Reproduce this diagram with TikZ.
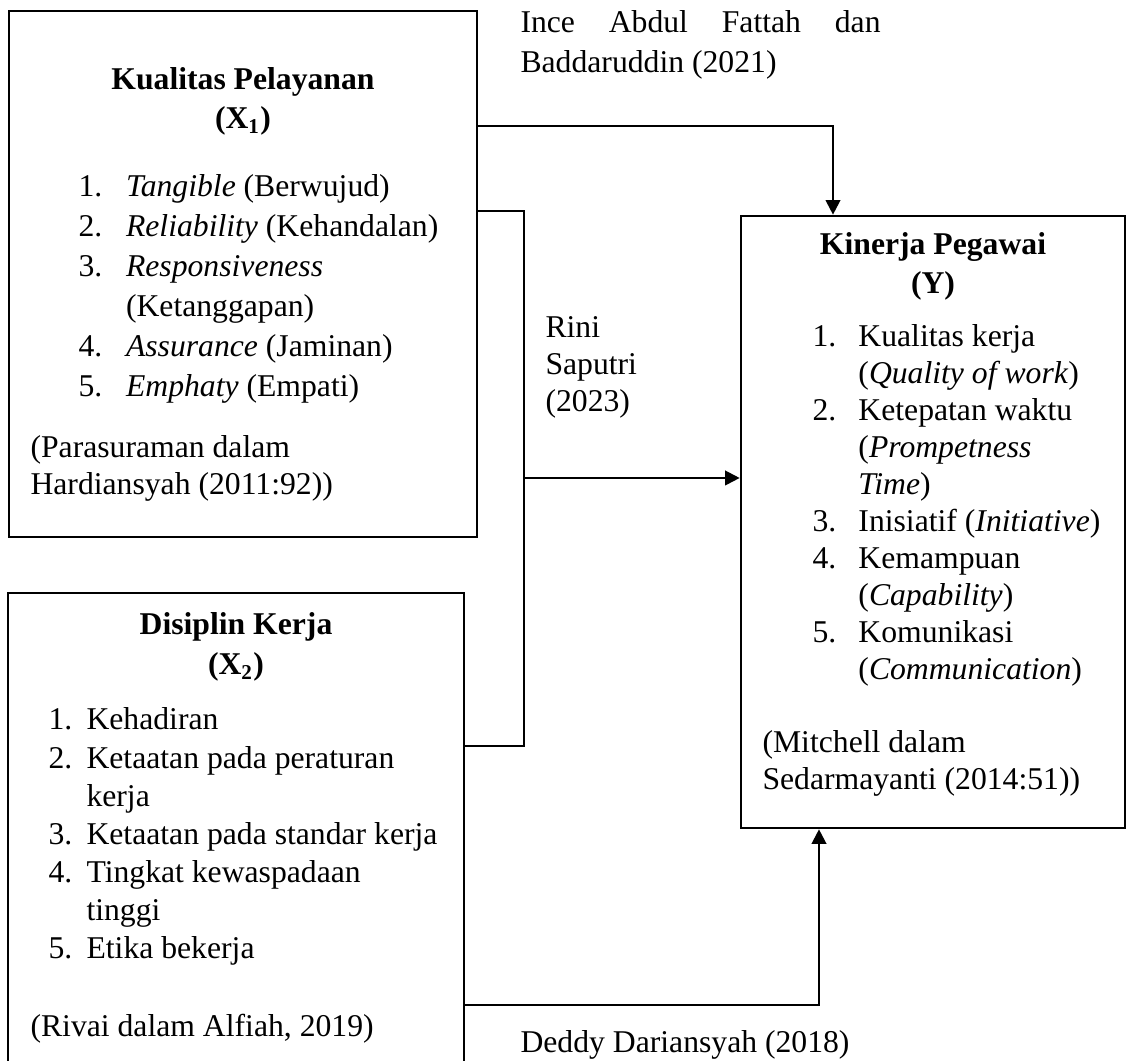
\documentclass[tikz,border=0pt]{standalone}
\usepackage{fontspec}
\setmainfont{Liberation Serif}
\usetikzlibrary{arrows.meta,fit}

\newcommand\nomor[2][18pt]{\makebox[#1][l]{#2}}

\tikzset{
  kotak/.style={draw, line width=1pt, inner sep=0pt},
  teks/.style={inner sep=0pt, anchor=base west, align=flush left, font=\fontsize{12}{14}\selectfont},
  judul/.style={inner sep=0pt, anchor=base, align=flush center, text width=170pt, font=\fontsize{12}{14.5}\selectfont\bfseries},
  garis/.style={line width=0.8pt},
  panah/.style={line width=0.8pt, -{Triangle[length=5.5pt,width=5.5pt]}}
}

\begin{document}
\begin{tikzpicture}[x=0.3788pt, y=-0.3788pt]
        \clip (0, 0) rectangle (1129, 1061);

        % kotak variabel
        \node[kotak, fit={(9, 11) (477, 537)}] (kp) {};
        \node[kotak, fit={(8, 593) (464, 1100)}] (dk) {};
        \node[kotak, fit={(741, 216) (1125, 828)}] (kin) {};

        % Kualitas Pelayanan (X1)
        \node[judul] (kp-judul) at (243, 90) {Kualitas Pelayanan\\(X\textsubscript{1})};
        \node[teks, text width=165pt, font=\fontsize{12}{15.15}\selectfont] (kp-isi) at (78, 197) {%
          \nomor{1.}\textit{Tangible} (Berwujud)\\
          \nomor{2.}\textit{Reliability} (Kehandalan)\\
          \nomor{3.}\textit{Responsiveness}\\
          \nomor{}(Ketanggapan)\\
          \nomor{4.}\textit{Assurance} (Jaminan)\\
          \nomor{5.}\textit{Emphaty} (Empati)};
        \node[teks, text width=165pt] (kp-sumber) at (30, 458) {(Parasuraman dalam\\Hardiansyah (2011:92))};

        % Disiplin Kerja (X2)
        \node[judul, font=\fontsize{12}{15}\selectfont\bfseries] (dk-judul) at (236, 635) {Disiplin Kerja\\(X\textsubscript{2})};
        \node[teks, text width=165pt, font=\fontsize{12}{14.4}\selectfont] (dk-isi) at (48, 730) {%
          \nomor[14.4pt]{1.}Kehadiran\\
          \nomor[14.4pt]{2.}Ketaatan pada peraturan\\
          \nomor[14.4pt]{}kerja\\
          \nomor[14.4pt]{3.}Ketaatan pada standar kerja\\
          \nomor[14.4pt]{4.}Tingkat kewaspadaan\\
          \nomor[14.4pt]{}tinggi\\
          \nomor[14.4pt]{5.}Etika bekerja};
        \node[teks, text width=165pt] (dk-sumber) at (30, 1037) {(Rivai dalam Alfiah, 2019)};

        % Kinerja Pegawai (Y)
        \node[judul] (kin-judul) at (933, 255) {Kinerja Pegawai\\(Y)\hspace*{6.8pt}};
        \node[teks, text width=130pt] (kin-isi) at (812, 347) {%
          \nomor[17.4pt]{1.}Kualitas kerja\\
          \nomor[17.4pt]{}(\textit{Quality of work})\\
          \nomor[17.4pt]{2.}Ketepatan waktu\\
          \nomor[17.4pt]{}(\textit{Prompetness}\\
          \nomor[17.4pt]{}\textit{Time})\\
          \nomor[17.4pt]{3.}Inisiatif (\textit{Initiative})\\
          \nomor[17.4pt]{4.}Kemampuan\\
          \nomor[17.4pt]{}(\textit{Capability})\\
          \nomor[17.4pt]{5.}Komunikasi\\
          \nomor[17.4pt]{}(\textit{Communication})};
        \node[teks, text width=140pt] (kin-sumber) at (762, 753) {(Mitchell dalam\\Sedarmayanti (2014:51))};

        % titik belok
        \coordinate (b1) at (833, 126);
        \coordinate (b2) at (524, 211);
        \coordinate (b3) at (524, 746);
        \coordinate (b4) at (524, 478);
        \coordinate (b5) at (819, 1005);

        % hubungan
        \draw[panah] (kp.east |- b1) -| (kin.north -| b1);
        \draw[garis] (kp.east |- b2) -- (b2) -- (b3) -- (dk.east |- b3);
        \draw[panah] (b4) -- (kin.west |- b4);
        \draw[panah] (dk.east |- b5) -| (kin.south -| b5);

        % peneliti terdahulu
        \node[teks, text width=136.4pt, font=\fontsize{12}{14.8}\selectfont] (ince) at (520, 33) {Ince\hfill Abdul\hfill Fattah\hfill dan\\Baddaruddin (2021)};
        \node[teks, text width=60pt] (rini) at (545, 338) {Rini\\Saputri\\(2023)};
        \node[teks] (deddy) at (520, 1053) {Deddy Dariansyah (2018)};
      \end{tikzpicture}
\end{document}
